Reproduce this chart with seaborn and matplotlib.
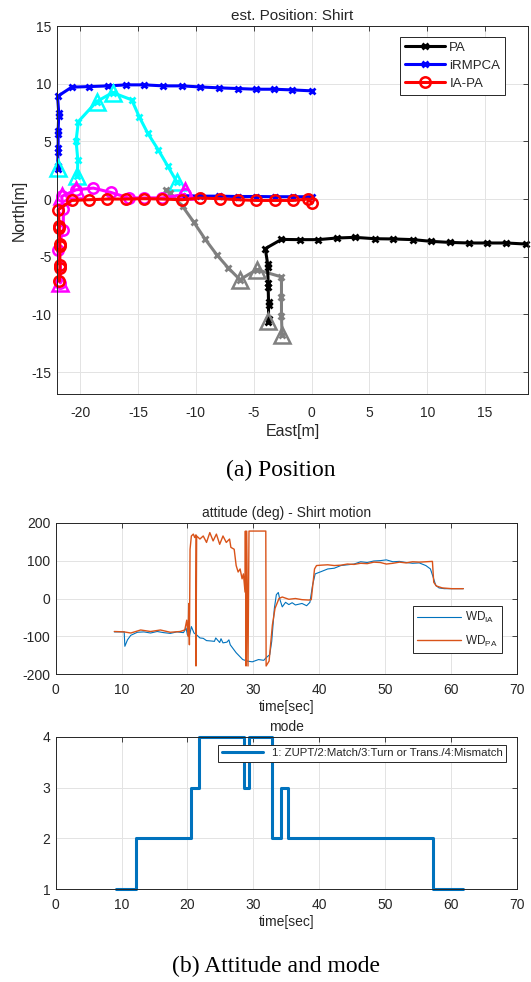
import numpy as np
import pandas as pd
import matplotlib
matplotlib.use('Agg')
import matplotlib.pyplot as plt
import seaborn as sns

# ---------------- (a) position, values ----------------
# PA (black), later part of the walk
pa_east = [-3.75, -3.72, -3.72, -3.72, -3.75, -3.75, -3.8, -3.8, -4.0, -2.6, -1.0,
           0.57, 2.16, 3.74, 5.47, 7.05, 8.78, 10.36, 11.94, 13.6, 15.2, 16.84, 18.5]
pa_north = [-10.7, -10.4, -9.2, -8.9, -7.6, -7.3, -5.9, -5.6, -4.3, -3.5, -3.52,
            -3.52, -3.38, -3.32, -3.44, -3.46, -3.52, -3.67, -3.76, -3.81, -3.81, -3.81, -3.9]
# PA, first turn part (gray)
pa2_east = [-12.6, -12.24, -11.14, -10.16, -9.21, -8.2, -7.2, -6.19, -4.75, -2.6, -2.6, -2.6, -2.55]
pa2_north = [0.8, 0.52, -0.64, -2.03, -3.46, -4.82, -5.97, -6.99, -6.12, -6.75, -8.5, -10.16, -11.75]
pa_turn_east = [-6.19, -4.75, -3.75, -2.55]
pa_turn_north = [-6.99, -6.12, -10.6, -11.75]

# iRMPCA (blue)
ir_east = [-21.95, -21.95, -21.9, -21.9, -21.9, -21.9, -21.85, -21.85, -21.95, -20.73, -19.2,
           -17.6, -16.0, -14.45, -12.8, -11.2, -9.65, -8.0, -6.4, -4.8, -3.23, -1.65, 0.0]
ir_north = [2.6, 2.9, 4.1, 4.4, 5.6, 5.9, 7.2, 7.5, 8.9, 9.7, 9.75,
            9.81, 9.9, 9.9, 9.81, 9.81, 9.72, 9.64, 9.58, 9.52, 9.52, 9.46, 9.38]
ir0_east = [0.0, -1.6, -3.2, -4.8, -6.4, -8.0, -9.6, -11.2]
ir0_north = [0.2, 0.2, 0.2, 0.22, 0.22, 0.25, 0.25, 0.3]
ir2_east = [-20.24, -20.2, -20.35, -20.15, -18.57, -17.2, -15.54, -14.9, -14.16, -13.25, -12.44, -11.66]
ir2_north = [1.96, 3.4, 5.05, 6.72, 8.45, 9.23, 8.6, 7.15, 5.71, 4.27, 2.88, 1.52]
ir_turn_east = [-21.9, -20.24, -18.57, -17.2, -11.66]
ir_turn_north = [2.68, 1.96, 8.45, 9.23, 1.52]

# IA-PA (red)
ia_east = [-21.8, -21.75, -21.75, -21.75, -21.75, -21.8, -21.8, -21.9, -20.73, -19.2, -17.7,
           -16.0, -14.45, -12.9, -11.2, -9.65, -7.9, -6.35, -4.76, -3.2, -1.6, -0.29, 0.05]
ia_north = [-7.13, -6.0, -5.7, -4.1, -3.9, -2.5, -2.3, -0.93, -0.12, -0.06, 0.0,
            0.0, 0.03, 0.0, -0.06, 0.09, 0.03, -0.06, -0.12, -0.12, -0.12, 0.0, -0.35]
ia2_east = [-10.94, -12.9, -14.45, -15.8, -17.33, -18.86, -20.35, -21.6, -21.45, -21.45, -21.95, -21.7, -21.7]
ia2_north = [0.4, 0.1, 0.1, 0.09, 0.57, 0.95, 0.8, 0.23, -0.9, -2.66, -4.39, -5.8, -7.27]
ia_turn_east = [-10.94, -20.35, -21.6, -21.7]
ia_turn_north = [0.66, 0.8, 0.23, -7.27]

# ---------------- (b) attitude and mode ----------------
wd_ia_t = [8.9, 10.4, 10.5, 10.9, 11.4, 12.4, 13.4, 14.4, 15.4, 16.4, 17.4, 18.4, 19.4, 19.8,
           20.0, 20.3, 20.6, 21.0, 21.4, 21.9, 22.4, 22.9, 23.6, 24.1, 24.3, 24.9, 25.1, 25.4,
           26.0, 26.3, 26.5, 27.4, 28.4, 29.1, 29.85, 30.8, 31.6, 31.9, 32.5, 32.8, 33.2, 33.5,
           33.8, 34.0, 34.4, 34.9, 35.4, 35.9, 36.4, 37.4, 38.1, 38.6, 39.0, 39.4, 40.3, 41.3,
           42.3, 43.3, 44.3, 45.3, 46.3, 47.3, 48.3, 49.3, 50.2, 51.2, 52.2, 53.2, 54.2, 55.2,
           56.2, 56.9, 57.3, 57.7, 58.2, 59.0, 60.0, 61.0, 61.9]
wd_ia = [-88, -88, -126, -109, -97, -89, -88, -91, -87, -90, -92, -88, -90, -78,
         -96, -100, -74, -91, -96, -104, -105, -111, -112, -113, -104, -116, -106, -117,
         -115, -109, -122, -143, -161, -165, -167, -161, -163, -157, -148, -113, -26, 10,
         16, 0, -22, -10, -16, -11, -17, -13, -19, -10, 35, 65, 71, 78,
         80, 87, 89, 91, 97, 95, 99, 100, 102, 97, 98, 95, 93, 94,
         87, 78, 57, 35, 28, 26, 26, 26, 26]

wd_pa_t = [8.9, 10.4, 11.4, 12.9, 14.4, 15.9, 17.4, 18.9, 19.6, 19.9, 20.1, 20.2, 20.3, 20.4,
           20.6, 20.9, 21.1, 21.3, 21.3, 21.4, 21.9, 22.4, 22.9, 23.4, 23.9, 24.4, 24.9, 25.4,
           25.9, 26.4, 26.6, 27.1, 27.4, 27.7, 28.0, 28.3, 28.5, 28.75, 28.8, 28.9, 29.0, 29.2,
           29.35, 31.9, 31.95, 32.4, 32.9, 33.3, 33.9, 34.4, 35.4, 36.4, 37.4, 38.4, 38.8, 39.3,
           39.6, 40.3, 41.3, 42.3, 43.3, 44.3, 45.3, 46.3, 47.3, 48.3, 49.3, 50.2, 51.2, 52.2,
           53.2, 54.2, 55.2, 56.2, 57.2, 57.4, 57.8, 58.7, 60.1, 61.9]
wd_pa = [-87, -88, -91, -83, -87, -83, -89, -87, -83, -57, -100, -13, -122, 130,
         165, 170, 161, 168, -178, 165, 157, 165, 148, 174, 152, 170, 143, 165,
         148, 157, 135, 130, 87, 70, 78, 52, 65, 17, 178, -178, 178, -178,
         178, 178, -178, -165, -70, -26, 0, 4, -2, 0, -3, -4, -3, 78,
         87, 88, 89, 87, 88, 91, 90, 93, 92, 96, 95, 91, 93, 96,
         94, 97, 96, 97, 98, 43, 33, 28, 26, 26]

mode_t = [9.1, 12.15, 20.5, 21.7, 28.6, 29.4, 32.9, 34.2, 35.3, 57.3, 61.8]
mode_val = [1, 2, 3, 4, 3, 4, 2, 3, 2, 1, 1]

sns.set_theme(style='whitegrid')
plt.rcParams['font.family'] = ['Liberation Sans', 'DejaVu Sans']
plt.rcParams['mathtext.fontset'] = 'custom'
plt.rcParams['mathtext.rm'] = 'Liberation Sans'
plt.rcParams['axes.unicode_minus'] = False

TXT = '#262626'


def matlab_axes(ax, xpad):
    ax.set_facecolor('white')
    ax.grid(True, color='#e3e3e3', lw=0.7)
    for s in ax.spines.values():
        s.set_visible(True)
        s.set_color(TXT)
        s.set_linewidth(0.7)
    ax.tick_params(direction='in', top=True, right=True, length=3.5, width=0.6,
                   colors=TXT, labelsize=10)
    ax.tick_params(axis='x', pad=xpad)
    ax.tick_params(axis='y', pad=4)


def path(ax, x, y, color, marker, **kw):
    sns.lineplot(x=x, y=y, ax=ax, color=color, marker=marker, mec=color,
                 estimator=None, sort=False, **kw)
    return ax.lines[-1]


fig = plt.figure(figsize=(5.31, 9.82), dpi=100)

# ---- position ----
ax1 = fig.add_axes([0.1073, 0.5988, 0.887, 0.3747])
matlab_axes(ax1, 8.5)
xk = dict(lw=2.2, ms=5, mew=2, clip_on=False)
ok = dict(lw=2.2, ms=7.5, mew=1.8, mfc='none', clip_on=False)
tri = dict(linestyle='none', ms=11, mew=1.8, mfc='none', clip_on=False)

path(ax1, ir0_east, ir0_north, '#0000ff', 'x', **xk)
path(ax1, ir2_east, ir2_north, '#00ffff', 'x', **xk)
h_ir = path(ax1, ir_east, ir_north, '#0000ff', 'x', label='iRMPCA', **xk)
path(ax1, ir_turn_east, ir_turn_north, '#00ffff', '^', **tri)
path(ax1, pa2_east, pa2_north, '#808080', 'x', **xk)
h_pa = path(ax1, pa_east, pa_north, '#000000', 'x', label='PA', **xk)
path(ax1, pa_turn_east, pa_turn_north, '#808080', '^', **tri)
path(ax1, ia2_east, ia2_north, '#ff00ff', 'o', **ok)
path(ax1, ia_turn_east, ia_turn_north, '#ff00ff', '^', **tri)
h_ia = path(ax1, ia_east, ia_north, '#ff0000', 'o', label='IA-PA', **ok)

ax1.set_xlim(-22, 18.7)
ax1.set_ylim(-16.9, 15)
ax1.set_xticks(np.arange(-20, 16, 5))
ax1.set_yticks(np.arange(-15, 16, 5))
ax1.set_title('est. Position: Shirt', fontsize=11, color=TXT, pad=4)
ax1.set_xlabel('East[m]', fontsize=11.5, color=TXT, labelpad=3)
ax1.set_ylabel('North[m]', fontsize=11.5, color=TXT, labelpad=3.5)
leg = ax1.legend(handles=[h_pa, h_ir, h_ia], loc='upper right', bbox_to_anchor=(0.951, 0.971),
                 borderaxespad=0, fancybox=False, framealpha=1, edgecolor=TXT, fontsize=9.5,
                 handlelength=3.0, handletextpad=0.35, labelspacing=0.45, borderpad=0.35)
leg.get_frame().set_linewidth(0.7)

# ---- attitude ----
ax2 = fig.add_axes([0.1049, 0.3133, 0.8682, 0.1544])
matlab_axes(ax2, 6.5)
h1 = path(ax2, wd_ia_t, wd_ia, '#0072bd', None, lw=0.8, label=r'WD$_\mathregular{IA}$')
h2 = path(ax2, wd_pa_t, wd_pa, '#d95319', None, lw=1.0, label=r'WD$_\mathregular{PA}$')
ax2.set_xlim(0, 70)
ax2.set_ylim(-200, 200)
ax2.set_xticks(np.arange(0, 71, 10))
ax2.set_yticks(np.arange(-200, 201, 100))
ax2.set_title('attitude (deg) - Shirt motion', fontsize=10, color=TXT, pad=4)
ax2.set_xlabel('time[sec]', fontsize=10, color=TXT, labelpad=2)
ax2.set_ylabel('')
leg = ax2.legend(handles=[h1, h2], loc='lower right', bbox_to_anchor=(0.967, 0.142),
                 borderaxespad=0, fancybox=False, framealpha=1, edgecolor=TXT, fontsize=8.5,
                 handlelength=3.7, handletextpad=0.3, labelspacing=0.7, borderpad=0.35)
leg.get_frame().set_linewidth(0.7)

# ---- mode ----
ax3 = fig.add_axes([0.1049, 0.0944, 0.8682, 0.1554])
matlab_axes(ax3, 6.5)
h3 = path(ax3, mode_t, mode_val, '#0072bd', None, lw=2.2, drawstyle='steps-post',
          clip_on=False, label='1: ZUPT/2:Match/3:Turn or Trans./4:Mismatch')
ax3.set_xlim(0, 70)
ax3.set_ylim(1, 4)
ax3.set_xticks(np.arange(0, 71, 10))
ax3.set_yticks([1, 2, 3, 4])
ax3.set_title('mode', fontsize=10, color=TXT, pad=4)
ax3.set_xlabel('time[sec]', fontsize=10, color=TXT, labelpad=2)
ax3.set_ylabel('')
leg = ax3.legend(handles=[h3], loc='upper right', bbox_to_anchor=(0.977, 0.9456),
                 borderaxespad=0, fancybox=False, framealpha=1, edgecolor=TXT, fontsize=8.2,
                 handlelength=3.6, borderpad=0.3)
leg.get_frame().set_linewidth(0.7)

fig.text(0.528, 1 - 470 / 982, '(a) Position', family='Liberation Serif', fontsize=17,
         ha='center', va='center', color='black')
fig.text(0.52, 1 - 966 / 982, '(b) Attitude and mode', family='Liberation Serif', fontsize=17,
         ha='center', va='center', color='black')

fig.savefig('out.png', dpi=100)
